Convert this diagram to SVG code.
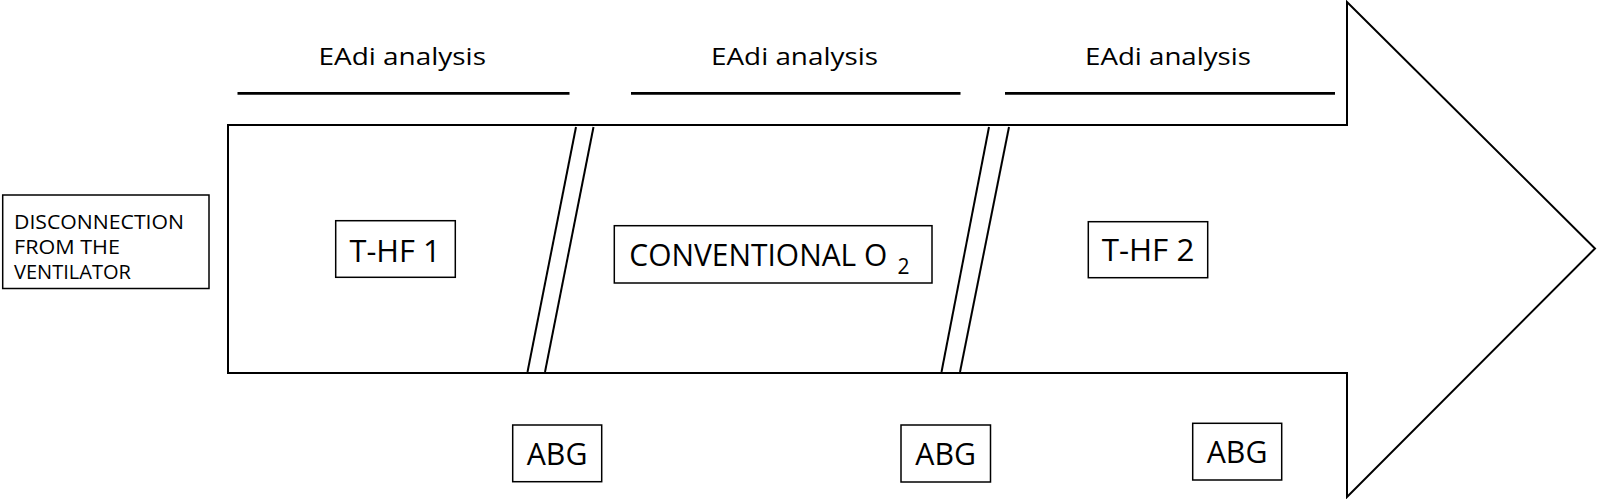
<svg xmlns="http://www.w3.org/2000/svg" width="1598" height="499" viewBox="0 0 1598 499">
<style>
.box{fill:#fff;stroke:#000;stroke-width:1.5}
.arrow{fill:#fff;stroke:#000;stroke-width:2}
.brk{stroke:#000;stroke-width:2;fill:none}
.bar{stroke:#000;stroke-width:2.8}
.t{font-family:"Open Sans","Liberation Sans",sans-serif;fill:#000}
.big{font-size:31.5px}
.lab{font-size:24px}
.small{font-size:20.5px}
</style>
<rect width="1598" height="499" fill="#fff"/>
<g id="arrow">
<polygon class="arrow" points="228,125 1347,125 1347,2 1595,248.5 1347,497 1347,373 228,373"/>
</g>
<g id="connectors">
<line class="brk" x1="576" y1="127" x2="527.5" y2="372"/>
<line class="brk" x1="593.5" y1="127" x2="545" y2="372"/>
<line class="brk" x1="989" y1="127" x2="941.5" y2="372"/>
<line class="brk" x1="1009" y1="127" x2="960" y2="372"/>
<line class="bar" x1="237.5" y1="93.3" x2="569.5" y2="93.3"/>
<line class="bar" x1="631" y1="93.3" x2="960.5" y2="93.3"/>
<line class="bar" x1="1005" y1="93.3" x2="1335" y2="93.3"/>
</g>
<g id="eadi1"><text class="t lab" x="318.5" y="65" textLength="167.5" lengthAdjust="spacingAndGlyphs">EAdi analysis</text></g>
<g id="eadi2"><text class="t lab" x="711" y="65" textLength="167" lengthAdjust="spacingAndGlyphs">EAdi analysis</text></g>
<g id="eadi3"><text class="t lab" x="1085" y="65" textLength="166" lengthAdjust="spacingAndGlyphs">EAdi analysis</text></g>
<g id="disconnection">
<rect class="box" x="2.7" y="195" width="206.3" height="93.5"/>
<text class="t small" x="14" y="229" textLength="170" lengthAdjust="spacingAndGlyphs">DISCONNECTION</text>
<text class="t small" x="14" y="254" textLength="106" lengthAdjust="spacingAndGlyphs">FROM THE</text>
<text class="t small" x="14" y="279" textLength="117" lengthAdjust="spacingAndGlyphs">VENTILATOR</text>
</g>
<g id="thf1">
<rect class="box" x="335.7" y="220.7" width="119.6" height="56.6"/>
<text class="t big" x="349.5" y="261.5" textLength="91" lengthAdjust="spacingAndGlyphs">T-HF 1</text>
</g>
<g id="conventional">
<rect class="box" x="614.3" y="225.7" width="317.7" height="57.3"/>
<text class="t big" x="629.3" y="265.7"><tspan textLength="258" lengthAdjust="spacingAndGlyphs">CONVENTIONAL O</tspan><tspan x="897.5" dy="7.8" font-size="21">2</tspan></text>
</g>
<g id="thf2">
<rect class="box" x="1088.3" y="221.7" width="119.4" height="56"/>
<text class="t big" x="1101.7" y="261" textLength="92.6" lengthAdjust="spacingAndGlyphs">T-HF 2</text>
</g>
<g id="abg1">
<rect class="box" x="512.7" y="425" width="89" height="56.7"/>
<text class="t big" x="526.7" y="465" textLength="60.7" lengthAdjust="spacingAndGlyphs">ABG</text>
</g>
<g id="abg2">
<rect class="box" x="901" y="425" width="89.5" height="57"/>
<text class="t big" x="915.3" y="465" textLength="60.7" lengthAdjust="spacingAndGlyphs">ABG</text>
</g>
<g id="abg3">
<rect class="box" x="1192.7" y="423.3" width="89" height="56.7"/>
<text class="t big" x="1206.7" y="463.3" textLength="60.7" lengthAdjust="spacingAndGlyphs">ABG</text>
</g>
</svg>
